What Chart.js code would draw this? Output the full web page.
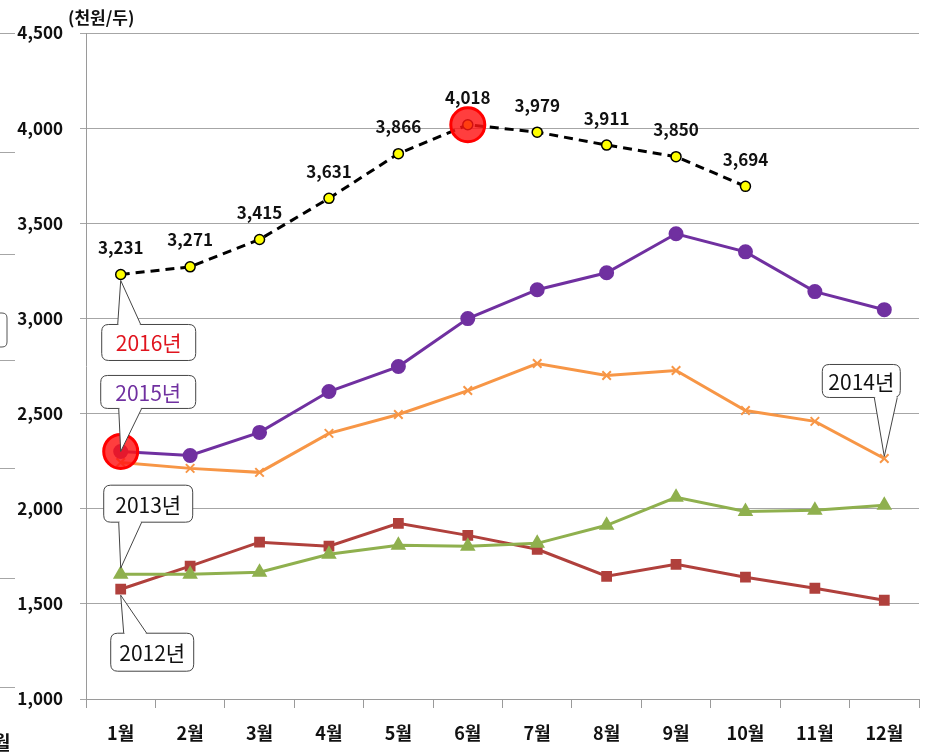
<!DOCTYPE html>
<html>
<head>
<meta charset="utf-8">
<script src="https://cdn.jsdelivr.net/npm/chart.js@4"></script>
<style>
  body { margin: 0; background: #fff; }
  #myChart { display: block; }
</style>
</head>
<body>
<canvas id="myChart" width="928" height="756"></canvas>
<script>
// 월별 가격 (천원/두)
const months = ["1월", "2월", "3월", "4월", "5월", "6월", "7월", "8월", "9월", "10월", "11월", "12월"];
const yTicks = [1000, 1500, 2000, 2500, 3000, 3500, 4000, 4500];

const price2016 = [3231, 3271, 3415, 3631, 3866, 4018, 3979, 3911, 3850, 3694, null, null];
const price2015 = [2301, 2280, 2401, 2616, 2747, 2999, 3151, 3240, 3445, 3350, 3141, 3046];
const price2014 = [2243, 2212, 2191, 2396, 2495, 2621, 2763, 2700, 2726, 2516, 2459, 2264];
const price2013 = [1656, 1656, 1666, 1761, 1808, 1803, 1818, 1913, 2060, 1986, 1992, 2018];
const price2012 = [1577, 1698, 1824, 1803, 1923, 1860, 1787, 1645, 1708, 1640, 1582, 1519];

const KFONT = "'Noto Sans CJK KR', 'Noto Sans', sans-serif";
const NARROW = "'Liberation Sans Narrow', 'Noto Sans CJK KR', sans-serif";

// 말풍선: 데이터셋, 인덱스, 박스(포인트 기준 오프셋), 꼬리 위치
const callouts = [
  { ds: 0, i: 0, text: "2016년", color: "#e0141e", dx: -19, dy: 50, w: 94, h: 36, side: "top", tipDy: 6, bOff: 16 },
  { ds: 1, i: 0, text: "2015년", color: "#7030a0", dx: -20, dy: -76, w: 95, h: 33, side: "bottom", tipDy: 0, bOff: 18 },
  { ds: 3, i: 0, text: "2013년", color: "#111", dx: -17, dy: -89, w: 89, h: 37, side: "bottom", tipDy: -6, bOff: 15 },
  { ds: 4, i: 0, text: "2012년", color: "#111", dx: -10, dy: 44, w: 83, h: 38, side: "top", tipDy: 6, bOff: 13 },
  { ds: 2, i: 11, text: "2014년", color: "#111", dx: -62, dy: -94, w: 78, h: 33, side: "bottom", tipDy: -2, bOff: 52 }
];

const highlights = [
  { ds: 0, i: 5 },
  { ds: 1, i: 0 }
];

function roundRect(ctx, x, y, w, h, r) {
  ctx.beginPath();
  ctx.moveTo(x + r, y);
  ctx.lineTo(x + w - r, y);
  ctx.quadraticCurveTo(x + w, y, x + w, y + r);
  ctx.lineTo(x + w, y + h - r);
  ctx.quadraticCurveTo(x + w, y + h, x + w - r, y + h);
  ctx.lineTo(x + r, y + h);
  ctx.quadraticCurveTo(x, y + h, x, y + h - r);
  ctx.lineTo(x, y + r);
  ctx.quadraticCurveTo(x, y, x + r, y);
  ctx.closePath();
}

const extrasPlugin = {
  id: "extras",
  afterDatasetsDraw(chart) {
    const ctx = chart.ctx;
    ctx.save();

    // 빨간 강조 원
    highlights.forEach((h) => {
      const p = chart.getDatasetMeta(h.ds).data[h.i];
      ctx.beginPath();
      ctx.arc(p.x, p.y, 17, 0, Math.PI * 2);
      ctx.fillStyle = "rgba(255, 20, 20, 0.82)";
      ctx.fill();
      ctx.lineWidth = 3;
      ctx.strokeStyle = "#ff0000";
      ctx.stroke();
    });

    // 말풍선
    callouts.forEach((c) => {
      const p = chart.getDatasetMeta(c.ds).data[c.i];
      const bx = p.x + c.dx, by = p.y + c.dy;
      roundRect(ctx, bx, by, c.w, c.h, 7);
      ctx.fillStyle = "#fff";
      ctx.fill();
      ctx.lineWidth = 1;
      ctx.strokeStyle = "#444";
      ctx.stroke();

      const baseY = c.side === "top" ? by : by + c.h;
      const b1 = bx + c.bOff;
      const b2 = b1 + 23;
      ctx.fillStyle = "#fff";
      ctx.beginPath();
      ctx.moveTo(b1, baseY);
      ctx.lineTo(p.x, p.y + c.tipDy);
      ctx.lineTo(b2, baseY);
      ctx.closePath();
      ctx.fill();
      ctx.fillRect(b1 + 1, baseY - 1.5, b2 - b1 - 2, 3);
      ctx.beginPath();
      ctx.moveTo(b1, baseY);
      ctx.lineTo(p.x, p.y + c.tipDy);
      ctx.lineTo(b2, baseY);
      ctx.stroke();

      ctx.fillStyle = c.color;
      ctx.font = "21px " + NARROW;
      ctx.textAlign = "center";
      ctx.textBaseline = "middle";
      ctx.fillText(c.text, bx + c.w / 2, by + c.h / 2 + 1);
    });

    // 2016년 값 라벨
    ctx.fillStyle = "#111";
    ctx.font = "bold 17px " + KFONT;
    ctx.textAlign = "center";
    ctx.textBaseline = "middle";
    chart.getDatasetMeta(0).data.forEach((p, i) => {
      const v = price2016[i];
      if (v == null) return;
      ctx.fillText(v.toLocaleString("en-US"), p.x, p.y - 27);
    });

    // 단위
    ctx.textAlign = "left";
    ctx.fillText("(천원/두)", 68, 18);

    // 왼쪽에 잘린 옆 차트 흔적
    ctx.strokeStyle = "#a6a6a6";
    ctx.lineWidth = 1;
    [33, 152, 254, 360, 468, 578, 687].forEach((y) => {
      ctx.beginPath();
      ctx.moveTo(0, y + 0.5);
      ctx.lineTo(15, y + 0.5);
      ctx.stroke();
    });
    roundRect(ctx, -20, 313, 27, 34, 5);
    ctx.strokeStyle = "#555";
    ctx.stroke();
    ctx.fillStyle = "#111";
    ctx.font = "bold 19px " + KFONT;
    ctx.textBaseline = "alphabetic";
    ctx.fillText("월", -7, 750);

    ctx.restore();
  }
};

const ctx = document.getElementById("myChart");
new Chart(ctx, {
  type: "line",
  data: {
    labels: months,
    datasets: [
      {
        label: "2016년",
        data: price2016,
        borderColor: "#000",
        borderWidth: 3,
        borderDash: [9, 6],
        pointStyle: "circle",
        pointRadius: 5,
        pointBackgroundColor: "#ffff00",
        pointBorderColor: "#000",
        pointBorderWidth: 1.5,
        tension: 0
      },
      {
        label: "2015년",
        data: price2015,
        borderColor: "#7030a0",
        borderWidth: 3,
        pointStyle: "circle",
        pointRadius: 6,
        pointBackgroundColor: "#7030a0",
        pointBorderColor: "#7030a0",
        tension: 0
      },
      {
        label: "2014년",
        data: price2014,
        borderColor: "#f79646",
        borderWidth: 3,
        pointStyle: "crossRot",
        pointRadius: 6,
        pointBorderColor: "#f79646",
        pointBorderWidth: 2,
        tension: 0
      },
      {
        label: "2013년",
        data: price2013,
        borderColor: "#8fb04e",
        borderWidth: 3,
        pointStyle: "triangle",
        pointRadius: 6,
        pointBackgroundColor: "#8fb04e",
        pointBorderColor: "#8fb04e",
        tension: 0
      },
      {
        label: "2012년",
        data: price2012,
        borderColor: "#b0403c",
        borderWidth: 3,
        pointStyle: "rect",
        pointRadius: 5.5,
        pointBackgroundColor: "#b0403c",
        pointBorderColor: "#b0403c",
        tension: 0
      }
    ]
  },
  options: {
    responsive: false,
    animation: false,
    layout: { padding: { top: 33, right: 0, left: 0, bottom: 0 } },
    plugins: {
      legend: { display: false },
      tooltip: { enabled: false }
    },
    scales: {
      x: {
        offset: true,
        afterFit: (scale) => { scale.height = 57; },
        border: { color: "#9a9a9a", width: 1 },
        grid: {
          offset: true,
          drawOnChartArea: false,
          drawTicks: true,
          tickLength: 9,
          color: "#9a9a9a"
        },
        ticks: {
          color: "#111",
          font: { family: KFONT, size: 18, weight: "bold" },
          padding: 14,
          maxRotation: 0,
          autoSkip: false
        }
      },
      y: {
        min: 1000,
        max: 4500,
        afterFit: (scale) => { scale.width = 86; },
        afterBuildTicks: (scale) => { scale.ticks = yTicks.map((v) => ({ value: v })); },
        border: { color: "#9a9a9a", width: 1 },
        grid: {
          color: "#a6a6a6",
          lineWidth: 1,
          tickLength: 6
        },
        ticks: {
          color: "#111",
          font: { family: KFONT, size: 17, weight: "bold" },
          padding: 17,
          callback: (v) => v.toLocaleString("en-US")
        }
      }
    }
  },
  plugins: [extrasPlugin]
});
</script>
</body>
</html>
